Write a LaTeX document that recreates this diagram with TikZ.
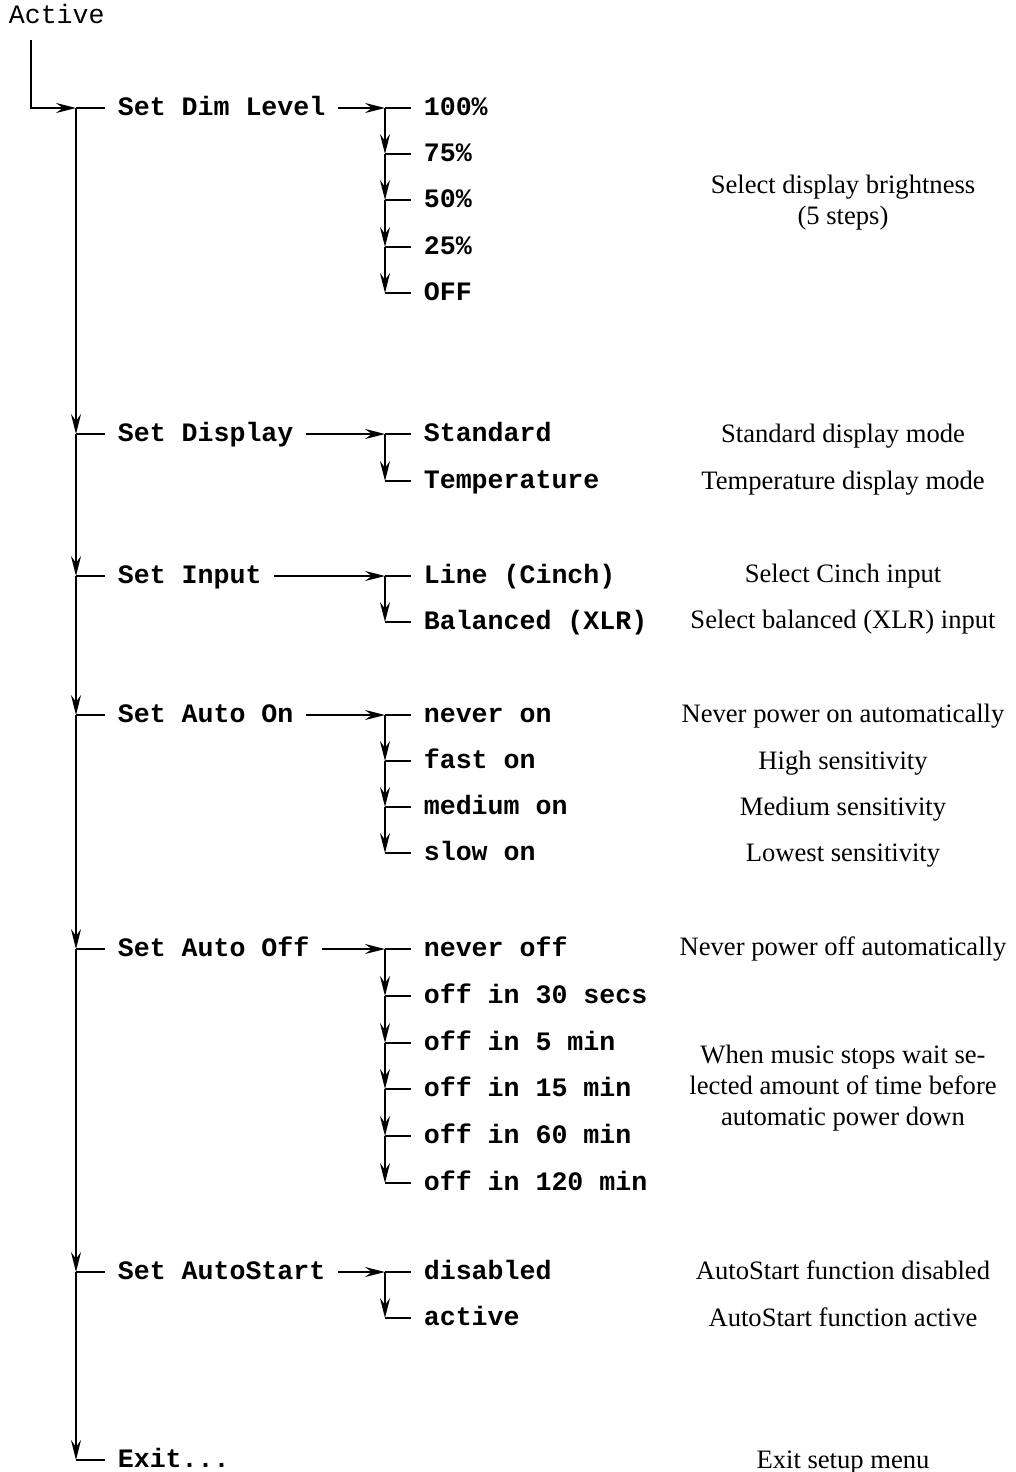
\documentclass[tikz,border=0pt]{standalone}
\usepackage{fontspec}
\setmainfont{Liberation Serif}
\setmonofont{Liberation Mono}
\usetikzlibrary{arrows.meta, positioning}
\newcommand{\fsz}{\fontsize{13.3}{15.5}\selectfont}

\begin{document}
\begin{tikzpicture}[
  x=0.5pt, y=-0.5pt,
  line width=0.85pt,
  menu/.style={font=\fsz\ttfamily\bfseries, anchor=west, inner xsep=6pt, inner ysep=0pt,
               text height=7.5pt, text depth=0pt},
  desc/.style={font=\fsz\rmfamily, align=center, inner sep=0pt},
  arr/.style={-{Stealth[length=10pt, width=5pt, inset=3.5pt]}},
]
\useasboundingbox (0,0) rectangle (1016,1472);

% --- Einstieg ---
\node[font=\fsz\ttfamily, anchor=base west, inner sep=0pt] (act) at (8,24) {Active};
\coordinate (a0) at (31,40);

% --- Hauptmenue ---
\foreach \i/\y in {1/108, 2/434, 3/576, 4/715, 5/949, 6/1272, 7/1460}
  \coordinate (j\i) at (76,\y);
\node[menu] (m1) at (105,108)  {Set Dim Level};
\node[menu] (m2) at (105,434)  {Set Display};
\node[menu] (m3) at (105,576)  {Set Input};
\node[menu] (m4) at (105,715)  {Set Auto On};
\node[menu] (m5) at (105,949)  {Set Auto Off};
\node[menu] (m6) at (105,1272) {Set AutoStart};
\node[menu] (m7) at (105,1460) {Exit...};

\draw[arr] (a0) |- (j1);
\foreach \i in {1,...,7}
  \draw (j\i) -- (m\i.west);
\foreach \i/\k in {1/2, 2/3, 3/4, 4/5, 5/6, 6/7}
  \draw[arr] (j\i) -- (j\k);

% --- Untermenues ---
\foreach \txt/\y [count=\i] in {100\%/108, 75\%/154, 50\%/200, 25\%/247, OFF/293} {
  \coordinate (s1-\i) at (385,\y);
  \node[menu] (o1-\i) at (411,\y) {\txt};
  \draw (s1-\i) -- (o1-\i.west);
}
\foreach \txt/\y [count=\i] in {Standard/434, Temperature/481} {
  \coordinate (s2-\i) at (385,\y);
  \node[menu] (o2-\i) at (411,\y) {\txt};
  \draw (s2-\i) -- (o2-\i.west);
}
\foreach \txt/\y [count=\i] in {Line (Cinch)/576, Balanced (XLR)/622} {
  \coordinate (s3-\i) at (385,\y);
  \node[menu] (o3-\i) at (411,\y) {\txt};
  \draw (s3-\i) -- (o3-\i.west);
}
\foreach \txt/\y [count=\i] in {never on/715, fast on/761, medium on/807, slow on/853} {
  \coordinate (s4-\i) at (385,\y);
  \node[menu] (o4-\i) at (411,\y) {\txt};
  \draw (s4-\i) -- (o4-\i.west);
}
\foreach \txt/\y [count=\i] in {never off/949, off in 30 secs/996, off in 5 min/1043,
                                off in 15 min/1089, off in 60 min/1136, off in 120 min/1183} {
  \coordinate (s5-\i) at (385,\y);
  \node[menu] (o5-\i) at (411,\y) {\txt};
  \draw (s5-\i) -- (o5-\i.west);
}
\foreach \txt/\y [count=\i] in {disabled/1272, active/1318} {
  \coordinate (s6-\i) at (385,\y);
  \node[menu] (o6-\i) at (411,\y) {\txt};
  \draw (s6-\i) -- (o6-\i.west);
}

% --- Pfeile in die Untermenues ---
\foreach \m in {1,...,6}
  \draw[arr] (m\m.east) -- (s\m-1);
\foreach \i/\k in {1/2, 2/3, 3/4, 4/5}
  \draw[arr] (s1-\i) -- (s1-\k);
\draw[arr] (s2-1) -- (s2-2);
\draw[arr] (s3-1) -- (s3-2);
\foreach \i/\k in {1/2, 2/3, 3/4}
  \draw[arr] (s4-\i) -- (s4-\k);
\foreach \i/\k in {1/2, 2/3, 3/4, 4/5, 5/6}
  \draw[arr] (s5-\i) -- (s5-\k);
\draw[arr] (s6-1) -- (s6-2);

% --- Beschreibungen ---
\node[desc] (d1) at (843,203) {Select display brightness\\(5 steps)};
\node[desc, anchor=base] (d2-1) at (843,442)  {Standard display mode};
\node[desc, anchor=base] (d2-2) at (843,489)  {Temperature display mode};
\node[desc, anchor=base] (d3-1) at (843,582)  {Select Cinch input};
\node[desc, anchor=base] (d3-2) at (843,628)  {Select balanced (XLR) input};
\node[desc, anchor=base] (d4-1) at (843,722)  {Never power on automatically};
\node[desc, anchor=base] (d4-2) at (843,769)  {High sensitivity};
\node[desc, anchor=base] (d4-3) at (843,815)  {Medium sensitivity};
\node[desc, anchor=base] (d4-4) at (843,861)  {Lowest sensitivity};
\node[desc, anchor=base] (d5-1) at (843,955)  {Never power off automatically};
\node[desc] (d5-2) at (843,1088) {When music stops wait se-\\lected amount of time before\\automatic power down};
\node[desc, anchor=base] (d6-1) at (843,1279) {AutoStart function disabled};
\node[desc, anchor=base] (d6-2) at (843,1326) {AutoStart function active};
\node[desc, anchor=base] (d7)   at (843,1468) {Exit setup menu};

\end{tikzpicture}
\end{document}
